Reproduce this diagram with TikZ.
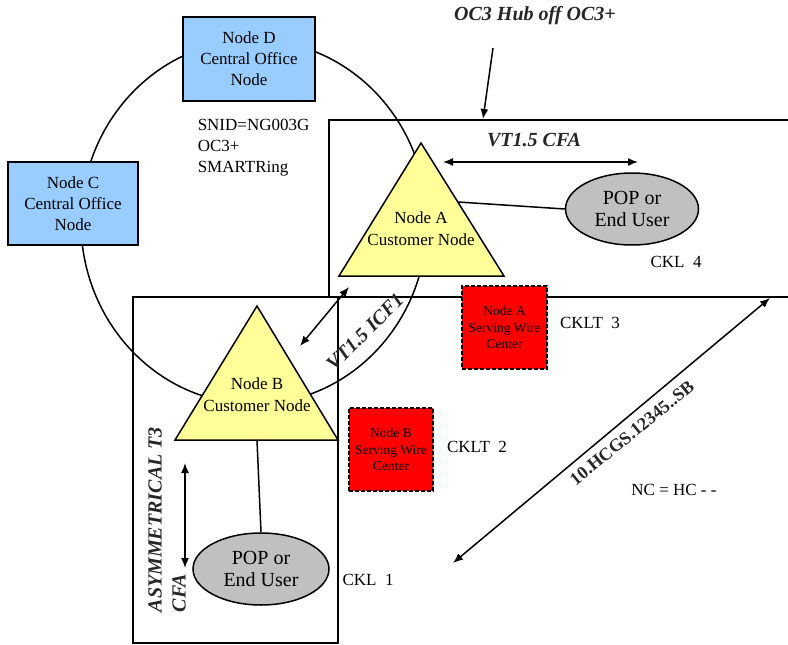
\documentclass[tikz,border=0pt]{standalone}
\usepackage{fontspec}
\setmainfont{Liberation Serif}
\usetikzlibrary{arrows.meta,shapes.geometric}
\definecolor{boxblue}{HTML}{99CCFF}
\definecolor{triyellow}{HTML}{FFFF99}
\definecolor{popgray}{HTML}{C0C0C0}
\definecolor{wirered}{HTML}{FF0000}
\begin{document}
\begin{tikzpicture}[x=1pt,y=-1pt,line width=1.5pt,
  conode/.style={draw,fill=boxblue,align=center,inner sep=0pt,
    font=\fontsize{17}{21}\selectfont},
  wirebox/.style={draw,fill=wirered,dash pattern=on 4pt off 2pt,align=center,inner sep=0pt,
    minimum width=85pt,minimum height=83pt,font=\fontsize{13.5}{16.5}\selectfont},
  pop/.style={draw,fill=popgray,ellipse,align=center,inner sep=0pt,
    minimum height=72pt,font=\fontsize{20}{22}\selectfont},
  tri/.style={draw,fill=triyellow,line join=miter},
  tritext/.style={align=center,inner sep=0pt,font=\fontsize{17}{22}\selectfont},
  plain/.style={inner sep=0pt,font=\fontsize{17}{21}\selectfont},
  bilabel/.style={inner sep=0pt,text=black!85,font=\fontsize{20}{24}\selectfont\bfseries\itshape},
  arr/.style={-{Latex[length=10pt,width=8pt]}},
  darr/.style={{Latex[length=10pt,width=8pt]}-{Latex[length=10pt,width=8pt]}}]
\useasboundingbox[fill=white] (0,0) rectangle (788,645);

% ring
\draw (254,222) ellipse [x radius=173pt, y radius=182pt];

% region boxes
\draw (800,120) -- (329,120) -- (329,297);
\draw (800,297) -- (133,297) -- (133,643) -- (338,643) -- (338,297);

% triangles
\coordinate (a1) at (421,143); \coordinate (a2) at (339,276); \coordinate (a3) at (504,276);
\coordinate (b1) at (257,306); \coordinate (b2) at (175,440); \coordinate (b3) at (338,440);
\draw[tri] (a1) -- (a2) -- (a3) -- cycle;
\draw[tri] (b1) -- (b2) -- (b3) -- cycle;
\node[tritext] (TA) at (421,229) {Node A\\Customer Node};
\node[tritext] (TB) at (257,395) {Node B\\Customer Node};
\coordinate (aside) at (458,202);
\coordinate (bbase) at (257,440);

% central office nodes
\node[conode,minimum width=132pt,minimum height=84pt] (D) at (249,59) {Node D\\Central Office\\Node};
\node[conode,minimum width=130pt,minimum height=83pt] (C) at (73,203.5) {Node C\\Central Office\\Node};
\node[plain,align=left,anchor=west] (snid) at (197,148) {SNID=NG003G\\OC3+\\SMARTRing};

% end users
\node[pop,minimum width=133pt] (PA) at (632,209) {POP or\\End User};
\node[pop,minimum width=136pt] (PB) at (261,569) {POP or\\End User};
\draw (aside) -- (PA.west);
\draw (bbase) -- (PB.north);

% serving wire centers
\node[wirebox] (WA) at (504.5,327.5) {Node A\\Serving Wire\\Center};
\node[wirebox,minimum width=84pt] (WB) at (391,449.5) {Node B\\Serving Wire\\Center};

% circuit labels
\node[plain] (ckl4) at (676,262) {CKL\ \ 4};
\node[plain] (cklt3) at (590,323) {CKLT\ \ 3};
\node[plain] (cklt2) at (477,447) {CKLT\ \ 2};
\node[plain] (ckl1) at (368,580) {CKL\ \ 1};
\node[plain] (nc) at (674,490) {NC = HC - -};

% bold italic labels
\node[bilabel] (hub) at (535,16) {OC3 Hub off OC3+};
\node[bilabel] (cfa) at (534,140) {VT1.5 CFA};
\node[bilabel,rotate=45] (icf) at (365,332) {VT1.5 ICF1};
\node[bilabel,rotate=90,anchor=west,align=left] (asym) at (167,613) {ASYMMETRICAL T3\\CFA};
\node[inner sep=0pt,text=black!85,font=\fontsize{18}{20}\selectfont\bfseries,rotate=39] (hcgs) at (632,433) {10.HCGS.12345..SB};

% arrows
\coordinate (hubs) at (493,48); \coordinate (hube) at (483,119);
\draw[arr] (hubs) -- (hube);
\coordinate (cfa1) at (443,162); \coordinate (cfa2) at (638,162);
\draw[darr] (cfa1) -- (cfa2);
\coordinate (icf1) at (300,346); \coordinate (icf2) at (349,287);
\draw[darr] (icf1) -- (icf2);
\coordinate (as1) at (185,463); \coordinate (as2) at (185,568);
\draw[darr] (as1) -- (as2);
\coordinate (hc1) at (453,563); \coordinate (hc2) at (770,298);
\draw[darr] (hc1) -- (hc2);
\end{tikzpicture}
\end{document}
